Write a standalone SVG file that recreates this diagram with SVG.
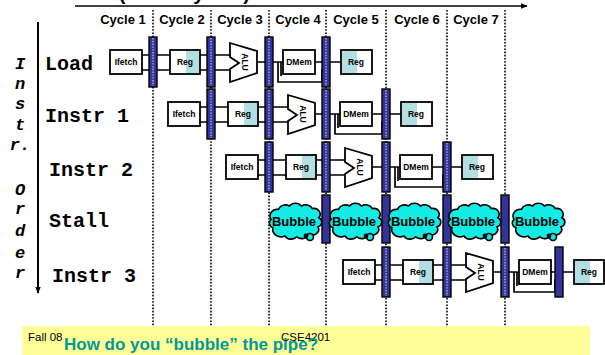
<svg xmlns="http://www.w3.org/2000/svg" xmlns:xlink="http://www.w3.org/1999/xlink" width="605" height="355" viewBox="0 0 605 355">
  <style>
    .cyc { font-family: "Liberation Sans", Arial, sans-serif; font-size: 13px; font-weight: bold; fill: #000; text-anchor: middle; }
    .row { font-family: "Liberation Mono", "Courier New", monospace; font-size: 20px; font-weight: bold; fill: #000; }
    .ord { font-family: "Liberation Mono", "Courier New", monospace; font-size: 17px; font-weight: bold; font-style: italic; fill: #000; text-anchor: middle; }
    .grid { stroke: #000; stroke-width: 1.6; stroke-dasharray: 1.6 1.6; fill: none; }
    .box { fill: #fff; stroke: #000; stroke-width: 1.8; }
    .shade { fill: #b4dfe2; stroke: none; }
    .lbl { font-family: "Liberation Sans", Arial, sans-serif; font-size: 8.5px; font-weight: bold; fill: #000; text-anchor: middle; }
    .wire { stroke: #000; stroke-width: 1.7; fill: none; }
    .bar { fill: #333399; stroke: #000; stroke-width: 1.4; }
    .bardot { stroke: #ffffff; stroke-opacity: 0.75; stroke-width: 1.2; stroke-dasharray: 1.4 1.4; fill: none; }
    .alu { fill: #fff; stroke: #000; stroke-width: 1.8; }
    .cloud { fill: #12ece4; stroke: #000; stroke-width: 1.6; }
    .bub { font-family: "Liberation Sans", Arial, sans-serif; font-size: 13px; font-weight: bold; fill: #000; text-anchor: middle; }
  </style>
  <defs>
    <marker id="arrow" viewBox="0 0 10 10" refX="9" refY="5" markerWidth="7" markerHeight="7" orient="auto" markerUnits="userSpaceOnUse">
      <path d="M0,1 L10,5 L0,9 z" fill="#000"/>
    </marker>
    <path id="cloudShape" vector-effect="non-scaling-stroke" d="M -24,8 a 6,6 0 0 1 -2,-10 a 8,8 0 0 1 8,-12 a 8,8 0 0 1 12,-4 a 8,8 0 0 1 13,0 a 8,8 0 0 1 12,3 a 7,7 0 0 1 7,11 a 6,6 0 0 1 -1,11 a 7,7 0 0 1 -10,9 a 8,8 0 0 1 -13,3 a 8,8 0 0 1 -13,-1 a 9,9 0 0 1 -13,-10 z"/>
  </defs>

  <rect width="605" height="355" fill="#fff"/>

  <!-- time axis -->
  <g id="time-axis">
    <text x="250" y="-0.5" text-anchor="end" font-family="Liberation Sans, Arial, sans-serif" font-size="20" font-weight="bold">Time (clock cycles)</text>
    <line x1="75" y1="6" x2="527" y2="6" stroke="#000" stroke-width="1.6" marker-end="url(#arrow)"/>
    <text class="cyc" x="123" y="24">Cycle 1</text>
    <text class="cyc" x="182" y="24">Cycle 2</text>
    <text class="cyc" x="240" y="24">Cycle 3</text>
    <text class="cyc" x="298" y="24">Cycle 4</text>
    <text class="cyc" x="356" y="24">Cycle 5</text>
    <text class="cyc" x="417" y="24">Cycle 6</text>
    <text class="cyc" x="476" y="24">Cycle 7</text>
  </g>

  <!-- clock-edge gridlines -->
  <g id="gridlines">
    <line class="grid" x1="153" y1="10" x2="153" y2="326"/>
    <line class="grid" x1="211" y1="10" x2="211" y2="326"/>
    <line class="grid" x1="269" y1="10" x2="269" y2="326"/>
    <line class="grid" x1="326" y1="10" x2="326" y2="326"/>
    <line class="grid" x1="386" y1="10" x2="386" y2="326"/>
    <line class="grid" x1="447" y1="10" x2="447" y2="326"/>
    <line class="grid" x1="505" y1="10" x2="505" y2="326"/>
  </g>

  <!-- instruction order axis -->
  <g id="order-axis">
    <line x1="38" y1="22" x2="38" y2="293" stroke="#000" stroke-width="2" marker-end="url(#arrow)"/>
    <text class="ord" x="20" y="69">I</text>
    <text class="ord" x="20" y="89">n</text>
    <text class="ord" x="20" y="109">s</text>
    <text class="ord" x="20" y="130">t</text>
    <text class="ord" x="20" y="150">r.</text>
    <text class="ord" x="20" y="195">O</text>
    <text class="ord" x="20" y="214">r</text>
    <text class="ord" x="20" y="236">d</text>
    <text class="ord" x="20" y="258">e</text>
    <text class="ord" x="20" y="278">r</text>
  </g>

  <!-- row labels -->
  <g id="row-labels">
    <text class="row" x="45" y="70">Load</text>
    <text class="row" x="45" y="122">Instr 1</text>
    <text class="row" x="49" y="176">Instr 2</text>
    <text class="row" x="49" y="227">Stall</text>
    <text class="row" x="52" y="282">Instr 3</text>
  </g>

  <!-- datapath wires -->
  <g id="connectors">
    <!-- Load -->
    <path class="wire" d="M142,55 H170 M142,70 H170 M200,55 H230 M200,70 H230 M257,62 H283 M278,62 V82 H322 V70 H326 M281,62 V76 M315,62 H341"/>
    <!-- Instr 1 -->
    <path class="wire" d="M200,107 H228 M200,122 H228 M258,107 H288 M258,122 H288 M315,114 H340 M335,114 V134 H382 V122 H386 M338,114 V128 M372,114 H401"/>
    <!-- Instr 2 -->
    <path class="wire" d="M258,160 H286 M258,175 H286 M316,160 H345 M316,175 H345 M372,167 H400 M395,167 V187 H443 V175 H447 M398,167 V181 M432,167 H462"/>
    <!-- Instr 3 -->
    <path class="wire" d="M375,265 H403 M375,280 H403 M433,265 H466 M433,280 H466 M493,272 H519 M514,272 V292 H555 V280 H559 M517,272 V286 M551,272 H574"/>
  </g>

  <!-- Load -->
  <g id="load">
    <g id="load-ifetch"><rect class="box" x="110" y="50" width="32" height="24"/><text class="lbl" x="126" y="65">Ifetch</text></g>
    <g id="load-reg"><rect class="box" x="170" y="50" width="30" height="24"/><rect class="shade" x="186" y="51" width="13" height="22"/><text class="lbl" x="185" y="65">Reg</text></g>
    <g id="load-alu"><polygon class="alu" points="230,43 257,51 257,73 230,82 230,69 239,63 230,57"/><text class="lbl" x="242" y="62" transform="rotate(90 242 62)">ALU</text></g>
    <g id="load-dmem"><rect class="box" x="283" y="50" width="32" height="24"/><text class="lbl" x="299" y="65">DMem</text></g>
    <g id="load-wb"><rect class="box" x="341" y="50" width="31" height="24"/><rect class="shade" x="342" y="51" width="15" height="22"/><text class="lbl" x="356" y="65">Reg</text></g>
    <g id="load-pipe">
      <rect class="bar" x="149" y="37" width="8" height="50"/><line class="bardot" x1="153" y1="38" x2="153" y2="86"/>
      <rect class="bar" x="207" y="37" width="8" height="50"/><line class="bardot" x1="211" y1="38" x2="211" y2="86"/>
      <rect class="bar" x="265" y="37" width="8" height="50"/><line class="bardot" x1="269" y1="38" x2="269" y2="86"/>
      <rect class="bar" x="322" y="37" width="8" height="50"/><line class="bardot" x1="326" y1="38" x2="326" y2="86"/>
    </g>
  </g>

  <!-- Instr 1 -->
  <g id="instr1">
    <g id="i1-ifetch"><rect class="box" x="168" y="102" width="32" height="24"/><text class="lbl" x="184" y="117">Ifetch</text></g>
    <g id="i1-reg"><rect class="box" x="228" y="102" width="30" height="24"/><rect class="shade" x="244" y="103" width="13" height="22"/><text class="lbl" x="243" y="117">Reg</text></g>
    <g id="i1-alu"><polygon class="alu" points="288,95 315,103 315,125 288,134 288,121 297,115 288,109"/><text class="lbl" x="300" y="114" transform="rotate(90 300 114)">ALU</text></g>
    <g id="i1-dmem"><rect class="box" x="340" y="102" width="32" height="24"/><text class="lbl" x="356" y="117">DMem</text></g>
    <g id="i1-wb"><rect class="box" x="401" y="102" width="31" height="24"/><rect class="shade" x="402" y="103" width="15" height="22"/><text class="lbl" x="416" y="117">Reg</text></g>
    <g id="i1-pipe">
      <rect class="bar" x="207" y="89" width="8" height="50"/><line class="bardot" x1="211" y1="90" x2="211" y2="138"/>
      <rect class="bar" x="265" y="89" width="8" height="50"/><line class="bardot" x1="269" y1="90" x2="269" y2="138"/>
      <rect class="bar" x="322" y="89" width="8" height="50"/><line class="bardot" x1="326" y1="90" x2="326" y2="138"/>
      <rect class="bar" x="382" y="89" width="8" height="50"/><line class="bardot" x1="386" y1="90" x2="386" y2="138"/>
    </g>
  </g>

  <!-- Instr 2 -->
  <g id="instr2">
    <g id="i2-ifetch"><rect class="box" x="226" y="155" width="32" height="24"/><text class="lbl" x="242" y="170">Ifetch</text></g>
    <g id="i2-reg"><rect class="box" x="286" y="155" width="30" height="24"/><rect class="shade" x="302" y="156" width="13" height="22"/><text class="lbl" x="301" y="170">Reg</text></g>
    <g id="i2-alu"><polygon class="alu" points="345,148 372,156 372,178 345,187 345,174 354,168 345,162"/><text class="lbl" x="357" y="167" transform="rotate(90 357 167)">ALU</text></g>
    <g id="i2-dmem"><rect class="box" x="400" y="155" width="32" height="24"/><text class="lbl" x="416" y="170">DMem</text></g>
    <g id="i2-wb"><rect class="box" x="462" y="155" width="31" height="24"/><rect class="shade" x="463" y="156" width="15" height="22"/><text class="lbl" x="477" y="170">Reg</text></g>
    <g id="i2-pipe">
      <rect class="bar" x="265" y="142" width="8" height="50"/><line class="bardot" x1="269" y1="143" x2="269" y2="191"/>
      <rect class="bar" x="322" y="142" width="8" height="50"/><line class="bardot" x1="326" y1="143" x2="326" y2="191"/>
      <rect class="bar" x="382" y="142" width="8" height="50"/><line class="bardot" x1="386" y1="143" x2="386" y2="191"/>
      <rect class="bar" x="443" y="142" width="8" height="50"/><line class="bardot" x1="447" y1="143" x2="447" y2="191"/>
    </g>
  </g>

  <!-- Stall: bubbles -->
  <g id="stall">
    <g id="stall-pipe">
      <rect class="bar" x="322" y="195" width="8" height="48"/>
      <rect class="bar" x="382" y="195" width="8" height="48"/>
      <rect class="bar" x="443" y="195" width="8" height="48"/>
      <rect class="bar" x="501" y="195" width="8" height="48"/>
    </g>
    <g id="bubble1">
      <use href="#cloudShape" class="cloud" transform="translate(295 221) scale(0.92 0.83)"/>
      <circle cx="310" cy="237" r="3.5" class="cloud"/><circle cx="306" cy="236" r="2.4" fill="#000"/>
      <text class="bub" x="294" y="226">Bubble</text>
    </g>
    <g id="bubble2">
      <use href="#cloudShape" class="cloud" transform="translate(355 221) scale(0.92 0.83)"/>
      <circle cx="370" cy="237" r="3.5" class="cloud"/><circle cx="366" cy="236" r="2.4" fill="#000"/>
      <text class="bub" x="354" y="226">Bubble</text>
    </g>
    <g id="bubble3">
      <use href="#cloudShape" class="cloud" transform="translate(414 221) scale(0.92 0.83)"/>
      <circle cx="429" cy="237" r="3.5" class="cloud"/><circle cx="425" cy="236" r="2.4" fill="#000"/>
      <text class="bub" x="413" y="226">Bubble</text>
    </g>
    <g id="bubble4">
      <use href="#cloudShape" class="cloud" transform="translate(474 221) scale(0.92 0.83)"/>
      <circle cx="489" cy="237" r="3.5" class="cloud"/><circle cx="485" cy="236" r="2.4" fill="#000"/>
      <text class="bub" x="473" y="226">Bubble</text>
    </g>
    <g id="bubble5">
      <use href="#cloudShape" class="cloud" transform="translate(538 221) scale(0.92 0.83)"/>
      <circle cx="553" cy="237" r="3.5" class="cloud"/><circle cx="549" cy="236" r="2.4" fill="#000"/>
      <text class="bub" x="537" y="226">Bubble</text>
    </g>
  </g>

  <!-- Instr 3 -->
  <g id="instr3">
    <g id="i3-ifetch"><rect class="box" x="343" y="260" width="32" height="24"/><text class="lbl" x="359" y="275">Ifetch</text></g>
    <g id="i3-reg"><rect class="box" x="403" y="260" width="30" height="24"/><rect class="shade" x="419" y="261" width="13" height="22"/><text class="lbl" x="418" y="275">Reg</text></g>
    <g id="i3-alu"><polygon class="alu" points="466,253 493,261 493,283 466,292 466,279 475,273 466,267"/><text class="lbl" x="478" y="272" transform="rotate(90 478 272)">ALU</text></g>
    <g id="i3-dmem"><rect class="box" x="519" y="260" width="32" height="24"/><text class="lbl" x="535" y="275">DMem</text></g>
    <g id="i3-wb"><rect class="box" x="574" y="260" width="30" height="24"/><rect class="shade" x="575" y="261" width="15" height="22"/><text class="lbl" x="589" y="275">Reg</text></g>
    <g id="i3-pipe">
      <rect class="bar" x="382" y="247" width="8" height="50"/><line class="bardot" x1="386" y1="248" x2="386" y2="296"/>
      <rect class="bar" x="443" y="247" width="8" height="50"/><line class="bardot" x1="447" y1="248" x2="447" y2="296"/>
      <rect class="bar" x="501" y="247" width="8" height="50"/><line class="bardot" x1="505" y1="248" x2="505" y2="296"/>
      <rect class="bar" x="555" y="247" width="8" height="50"/>
    </g>
  </g>

  <!-- footer band -->
  <g id="footer">
    <rect x="22" y="326" width="568" height="29" fill="#ffff99"/>
    <text x="28" y="341" font-family="Liberation Sans, Arial, sans-serif" font-size="11.5" fill="#000">Fall 08</text>
    <text x="281" y="341" font-family="Liberation Sans, Arial, sans-serif" font-size="11.5" fill="#000">CSE4201</text>
    <text x="64" y="350" font-family="Liberation Sans, Arial, sans-serif" font-size="17" font-weight="bold" fill="#009999">How do you “bubble” the pipe?</text>
  </g>
</svg>
